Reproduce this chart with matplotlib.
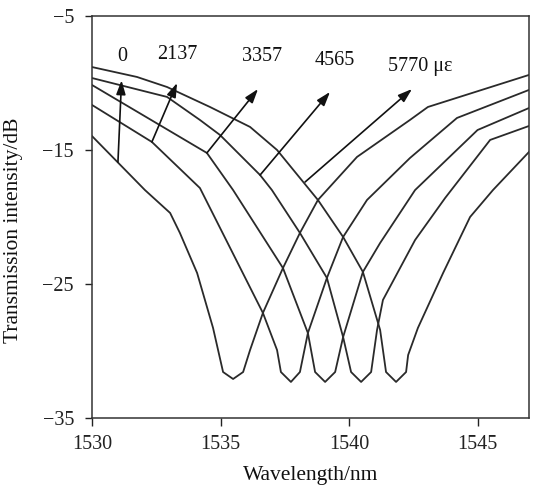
import matplotlib
matplotlib.use('Agg')
import matplotlib.pyplot as plt

plt.rcParams['font.family'] = ['Liberation Serif', 'DejaVu Serif']

# strain values (micro-strain) and label text
strains = ['0', '2137', '3357', '4565', '5770 \u03bc\u03b5']

# transmission spectra, wavelength in nm and intensity in dB
wl_0 = [1530.00, 1532.06, 1533.04, 1533.42, 1534.09, 1534.71, 1535.10, 1535.49,
        1535.88, 1536.15, 1536.65, 1537.43, 1538.09, 1538.79, 1540.31, 1542.37,
        1543.07, 1547.00]
db_0 = [-13.96, -17.99, -19.70, -21.19, -24.18, -28.28, -31.57, -32.09,
        -31.57, -29.93, -27.16, -23.81, -21.19, -18.73, -15.52, -12.76,
        -11.79, -9.40]

wl_2137 = [1530.00, 1532.33, 1534.20, 1536.65, 1537.20, 1537.35, 1537.74, 1538.09,
           1538.40, 1539.14, 1539.77, 1540.70, 1542.37, 1544.20, 1547.00]
db_2137 = [-11.64, -14.40, -17.84, -27.16, -29.93, -31.57, -32.31, -31.57,
           -28.66, -24.55, -21.49, -18.73, -15.60, -12.61, -10.52]

wl_3357 = [1530.00, 1534.47, 1535.49, 1537.43, 1538.40, 1538.68, 1539.07, 1539.46,
           1539.77, 1540.54, 1541.21, 1542.57, 1545.00, 1547.00]
db_3357 = [-10.15, -15.22, -17.99, -23.81, -28.66, -31.57, -32.31, -31.57,
           -28.96, -24.10, -21.94, -17.99, -13.51, -11.87]

wl_4565 = [1530.00, 1532.92, 1534.20, 1534.98, 1536.54, 1537.00, 1538.09, 1539.14,
           1539.77, 1540.08, 1540.47, 1540.86, 1541.09, 1541.32, 1542.57, 1543.74,
           1545.49, 1547.00]
db_4565 = [-9.63, -11.04, -12.76, -13.88, -16.87, -17.99, -21.19, -24.55,
           -28.96, -31.57, -32.31, -31.57, -28.43, -26.19, -21.72, -18.58,
           -14.25, -13.21]

wl_5770 = [1530.00, 1531.75, 1532.92, 1534.59, 1536.15, 1537.20, 1538.79, 1539.77,
           1540.54, 1541.21, 1541.44, 1541.83, 1542.22, 1542.30, 1542.68, 1543.66,
           1544.71, 1545.60, 1547.00]
db_5770 = [-8.81, -9.55, -10.30, -11.79, -13.28, -15.00, -18.73, -21.49,
           -24.10, -28.43, -31.57, -32.31, -31.57, -30.30, -28.28, -24.18,
           -20.00, -17.99, -15.15]

# arrows: tail on each curve, head towards the label
arrow_tail = [(1531.01, -15.90), (1532.33, -14.40), (1534.47, -15.22),
              (1536.54, -16.87), (1538.29, -17.39)]
arrow_head = [(1531.15, -9.80), (1533.31, -10.00), (1536.46, -10.45),
              (1539.26, -10.67), (1542.45, -10.45)]
label_pos = [(1531.17, -8.0), (1533.31, -7.9), (1536.6, -8.05),
             (1539.46, -8.3), (1542.76, -8.8)]

xticks = [1530, 1535, 1540, 1545]
yticks = [-35, -25, -15, -5]

fig = plt.figure(figsize=(5.37, 4.95), dpi=100)
ax = fig.add_axes([0.1713, 0.1556, 0.8137, 0.8121])

line_color = '#2a2a2a'
for wl, db in [(wl_0, db_0), (wl_2137, db_2137), (wl_3357, db_3357),
               (wl_4565, db_4565), (wl_5770, db_5770)]:
    ax.plot(wl, db, color=line_color, lw=1.3)

for tail, head, pos, s in zip(arrow_tail, arrow_head, label_pos, strains):
    ax.annotate('', xy=head, xytext=tail,
                arrowprops=dict(arrowstyle='-|>,head_length=0.6,head_width=0.2',
                                mutation_scale=14, lw=1.2, color='#111111',
                                shrinkA=0, shrinkB=0))
    ax.text(pos[0], pos[1], s, ha='center', va='center', fontsize=14.5,
            color='#111111')

ax.set_xlim(1530, 1547)
ax.set_ylim(-35, -5)
ax.set_xticks(xticks)
ax.set_yticks(yticks)
ax.tick_params(axis='x', direction='out', length=6, width=1, pad=6,
               labelsize=14.5, colors='#222222')
ax.tick_params(axis='y', direction='out', length=5, width=1, pad=8,
               labelsize=14.5, colors='#222222')
for sp in ax.spines.values():
    sp.set_linewidth(1.1)
    sp.set_color('#333333')

ax.set_xlabel('Wavelength/nm', fontsize=15.5, labelpad=9, color='#111111')
ax.set_ylabel('Transmission intensity/dB', fontsize=15.5, color='#111111')
ax.yaxis.set_label_coords(-0.158, 0.468)

fig.savefig('out.png', dpi=100)
